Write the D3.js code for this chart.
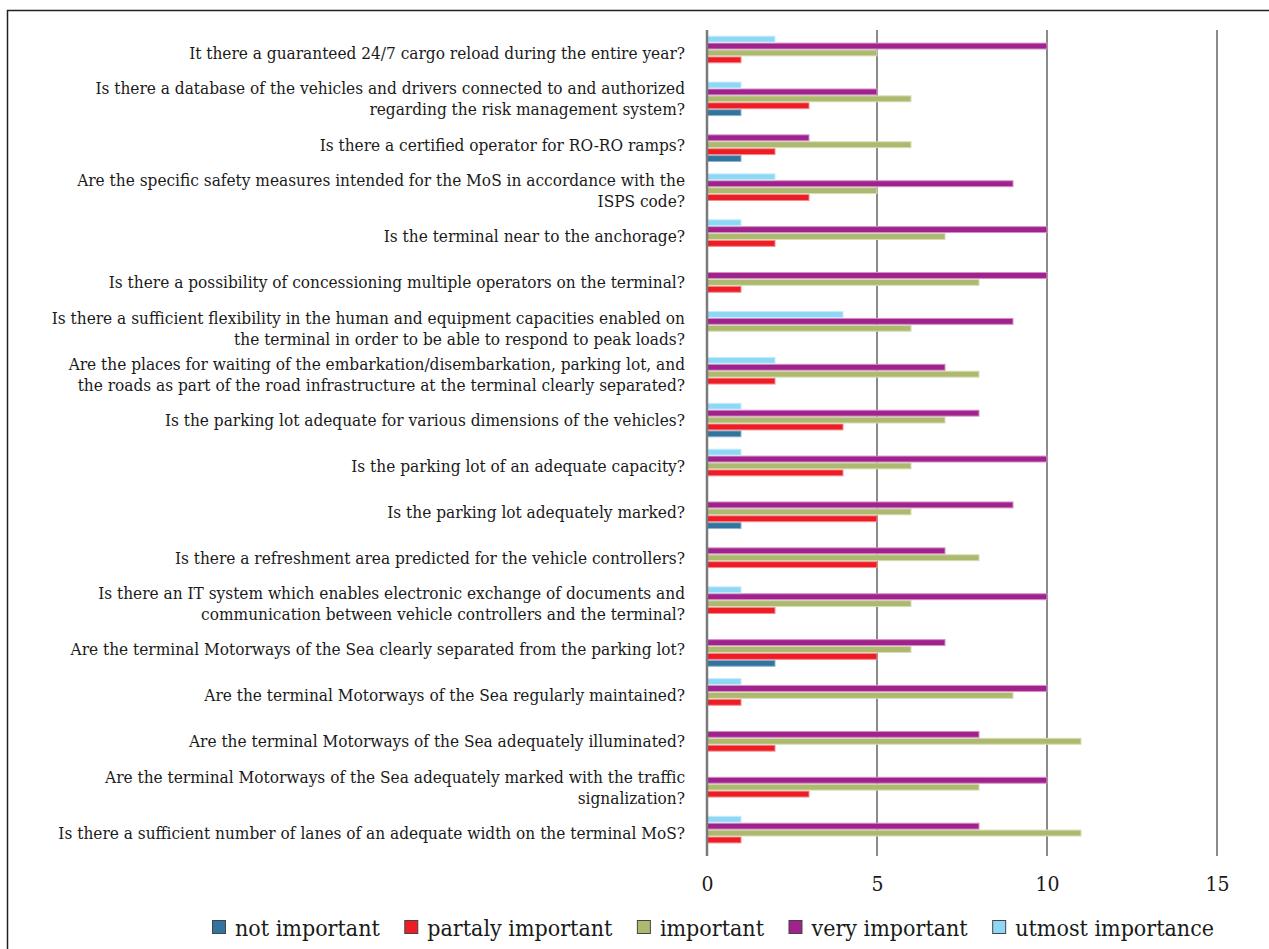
<!DOCTYPE html>
<html><head><meta charset="utf-8">
<script src="https://cdn.jsdelivr.net/npm/d3@7"></script>
<style>
html,body{margin:0;padding:0;background:#fff;}
svg{display:block;}
text{font-family:"DejaVu Serif Condensed","DejaVu Serif",serif;font-stretch:condensed;fill:#1a1a1a;}
</style></head><body>
<svg id="chart" width="1269" height="949"></svg>
<script>
const categories = [
  "It there a guaranteed 24/7 cargo reload during the entire year?",
  "Is there a database of the vehicles and drivers connected to and authorized\nregarding the risk management system?",
  "Is there a certified operator for RO-RO ramps?",
  "Are the specific safety measures intended for the MoS in accordance with the\nISPS code?",
  "Is the terminal near to the anchorage?",
  "Is there a possibility of concessioning multiple operators on the terminal?",
  "Is there a sufficient flexibility in the human and equipment capacities enabled on\nthe terminal in order to be able to respond to peak loads?",
  "Are the places for waiting of the embarkation/disembarkation, parking lot, and\nthe roads as part of the road infrastructure at the terminal clearly separated?",
  "Is the parking lot adequate for various dimensions of the vehicles?",
  "Is the parking lot of an adequate capacity?",
  "Is the parking lot adequately marked?",
  "Is there a refreshment area predicted for the vehicle controllers?",
  "Is there an IT system which enables electronic exchange of documents and\ncommunication between vehicle controllers and the terminal?",
  "Are the terminal Motorways of the Sea clearly separated from the parking lot?",
  "Are the terminal Motorways of the Sea regularly maintained?",
  "Are the terminal Motorways of the Sea adequately illuminated?",
  "Are the terminal Motorways of the Sea adequately marked with the traffic\nsignalization?",
  "Is there a sufficient number of lanes of an adequate width on the terminal MoS?"
];
const seriesNames = ["not important","partaly important","important","very important","utmost importance"];
const notImportant      = [0,1,1,0,0,0,0,0,1,0,1,0,0,2,0,0,0,0];
const partalyImportant  = [1,3,2,3,2,1,0,2,4,4,5,5,2,5,1,2,3,1];
const important         = [5,6,6,5,7,8,6,8,7,6,6,8,6,6,9,11,8,11];
const veryImportant     = [10,5,3,9,10,10,9,7,8,10,9,7,10,7,10,8,10,8];
const utmostImportance  = [2,1,0,2,1,0,4,2,1,1,0,0,1,0,1,0,0,1];
const tickValues = [0,5,10,15];

const seriesValues = [notImportant, partalyImportant, important, veryImportant, utmostImportance];
const colors = ["#31759f","#ee1c25","#adb96e","#a0228c","#8ed8f6"];
const strokes = ["#8fb3cc","#f5898d","#d6dcb5","#d38fc6","#c6ecfb"];

const svg = d3.select("#chart");
// frame
svg.append("path").attr("d","M7.5,949 L7.5,10.5 L1269,10.5").attr("fill","none").attr("stroke","#222").attr("stroke-width",1.5);

const x = d3.scaleLinear().domain([0,15]).range([707,1217]);
const y = d3.scaleBand().domain(categories).range([30,856]).paddingInner(0).paddingOuter(0);
const band = y.bandwidth();
const barH = band/6.65;
const groupH = barH*5;

// gridlines
svg.append("g").selectAll("line").data(tickValues.slice(1)).join("line")
  .attr("x1",d=>x(d)).attr("x2",d=>x(d)).attr("y1",30).attr("y2",856)
  .attr("stroke","#8a8a8a").attr("stroke-width",2);

// bars
const seriesIdx = d3.range(seriesValues.length);
const g = svg.append("g");
categories.forEach((c,ci)=>{
  const cy = y(c)+band/2;
  seriesIdx.forEach(si=>{
    const v = seriesValues[si][ci];
    if(v<=0) return;
    const top = cy - groupH/2 + (4-si)*barH;
    g.append("rect").attr("x",x(0)).attr("y",top+0.5).attr("width",x(v)-x(0)).attr("height",barH-1)
      .attr("fill",colors[si]).attr("stroke",strokes[si]).attr("stroke-width",1);
  });
});

// axis line at 0
svg.append("line").attr("x1",x(0)).attr("x2",x(0)).attr("y1",30).attr("y2",856)
  .attr("stroke","#7a7a7a").attr("stroke-width",2.5);

// category labels
const lab = svg.append("g");
categories.forEach(c=>{
  const lines = c.split("\n");
  const cy = y(c)+band/2;
  const lh = 21;
  const t = lab.append("text").attr("text-anchor","end").attr("font-size",17.1);
  lines.forEach((ln,i)=>{
    t.append("tspan").attr("x",685).attr("y",cy - (lines.length-1)*lh/2 + i*lh).attr("dy","0.35em").text(ln);
  });
});

// x tick labels
const ax = d3.axisBottom(x).tickValues(tickValues).tickSize(0).tickPadding(0);
const axg = svg.append("g").attr("transform","translate(0,876)").call(ax);
axg.select(".domain").remove();
axg.selectAll("text").attr("font-size",21).attr("font-family",null).attr("fill","#1a1a1a").attr("dy","0.71em");

// legend
const leg = svg.append("g");
let lx = 212;
seriesNames.forEach((n,i)=>{
  leg.append("rect").attr("x",lx+0.5).attr("y",920.5).attr("width",13).attr("height",13)
    .attr("fill",colors[i]).attr("stroke","#444").attr("stroke-width",1);
  const t = leg.append("text").attr("x",lx+23).attr("y",928).attr("dy","0.35em").attr("font-size",23).text(n);
  const w = t.node().getComputedTextLength();
  lx += 23 + w + 24.5;
});
</script>
</body></html>
